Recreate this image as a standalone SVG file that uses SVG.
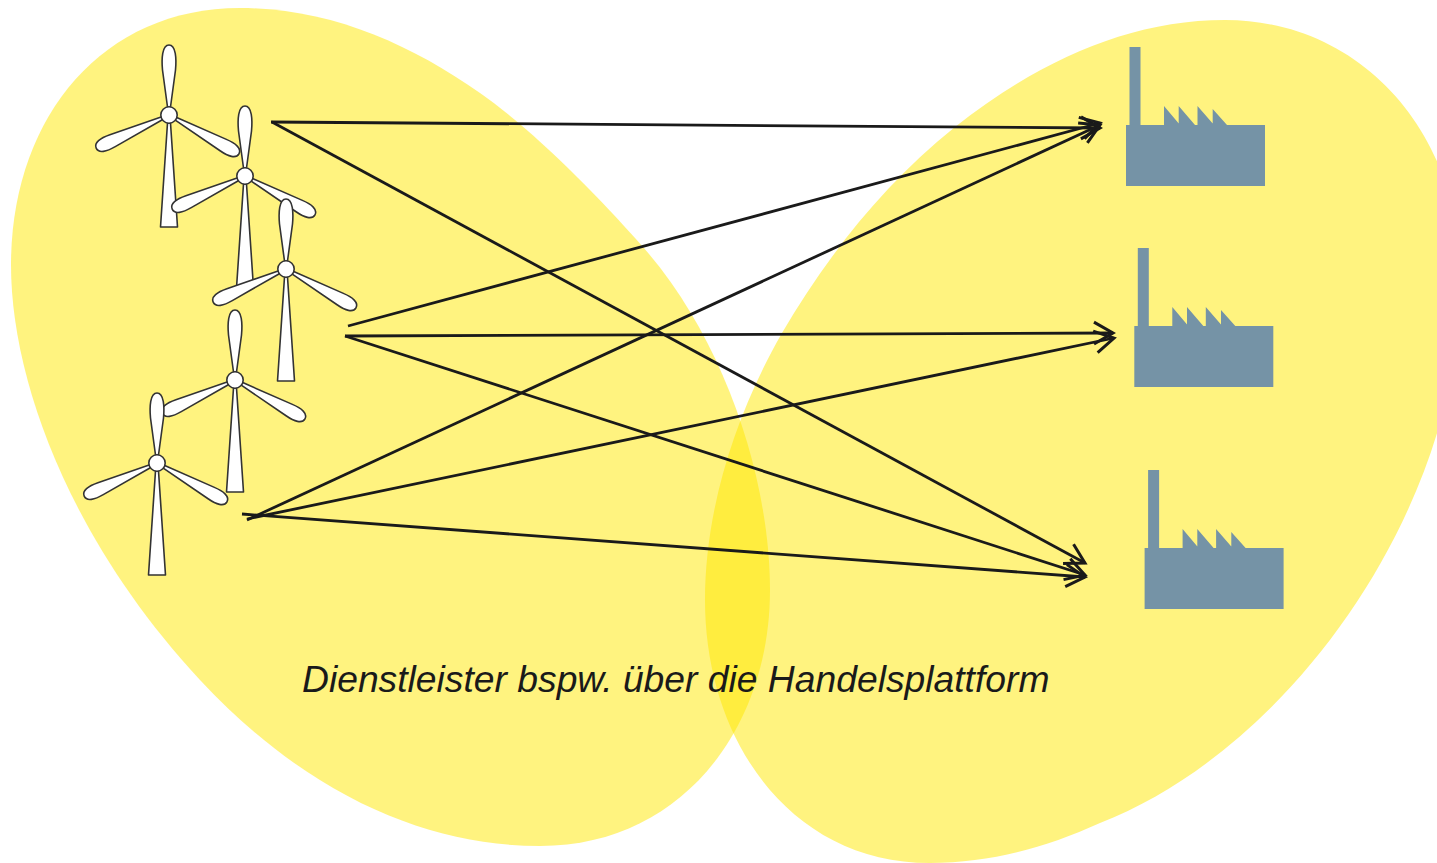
<svg xmlns="http://www.w3.org/2000/svg" width="1437" height="863" viewBox="0 0 1437 863">
<style>
.blob{fill:#ffe800;fill-opacity:.5}
.part{fill:#fff;stroke:#333;stroke-width:1.6;stroke-linejoin:round}
.conn{fill:none;stroke:#1a1a1a;stroke-width:2.800;marker-end:url(#open)}
.fac{fill:#7593a6}
.lbl{font-family:"Liberation Sans",Arial,sans-serif;font-style:italic;font-size:37.250px;fill:#1a1a1a}
</style>
<defs>
<marker id="open" markerUnits="userSpaceOnUse" markerWidth="40" markerHeight="40" refX="30" refY="20" orient="auto">
<path d="M11,9 L30,20 L11,31" fill="none" stroke="#1a1a1a" stroke-width="3"/>
</marker>
<path id="blade" class="part" d="M-1.500,-8 L-6.500,-45 C-7.500,-56 -7,-70 0,-70 C7,-70 7.500,-56 6.500,-45 L1.500,-8 Z"/>
<path id="side" class="part" d="M-1.500,-8 L-6.500,-62 C-7.500,-72 -6,-80 0,-80 C6,-80 7.500,-72 6.500,-62 L1.500,-8 Z"/>
<g id="turbine">
<path class="part" d="M-8.500,112 L-1.500,8 L1.500,8 L8.500,112 Z"/>
<use href="#blade"/>
<use href="#side" transform="rotate(-114.500)"/>
<use href="#side" transform="rotate(119)"/>
<circle class="part" r="8.200"/>
</g>
<g id="factory">
<rect class="fac" x="1126" y="125" width="139" height="61"/>
<rect class="fac" x="1129.500" y="47" width="11" height="78"/>
<path class="fac" d="M1164,106 L1180,125 L1164,125 Z M1178.700,106 L1195,125 L1178.700,125 Z M1197.500,106 L1214,125 L1197.500,125 Z M1212.700,109 L1227,125 L1212.700,125 Z"/>
</g>
</defs>
<path class="blob" d="M240,8 C100,8 11,120 11,265 C11,380 70,540 200,680 C310,798 430,846 540,846 C680,846 770,730 770,590 C770,480 725,340 643,247 C590,187 530,128 480,93 C410,44 330,8 240,8 Z"/>
<path class="blob" d="M1225,20 C1130,20 1040,60 955,127 C880,187 825,260 782,333 C735,415 705,510 705,600 C705,740 790,863 930,863 C990,863 1045,848 1100,823 C1300,745 1470,490 1460,265 C1456,130 1360,20 1225,20 Z"/>
<g id="turbine-1"><use href="#turbine" x="169" y="115"/></g>
<g id="turbine-2"><use href="#turbine" x="245" y="176"/></g>
<g id="turbine-3"><use href="#turbine" x="286" y="269"/></g>
<g id="turbine-4"><use href="#turbine" x="235" y="380"/></g>
<g id="turbine-5"><use href="#turbine" x="157" y="463"/></g>
<g id="factory-1"><use href="#factory"/></g>
<g id="factory-2"><use href="#factory" x="8.300" y="201"/></g>
<g id="factory-3"><use href="#factory" x="18.600" y="423"/></g>
<g id="connectors">
<line class="conn" x1="271" y1="122" x2="1100" y2="128"/>
<line class="conn" x1="272" y1="122" x2="1085" y2="563"/>
<line class="conn" x1="348" y1="326" x2="1100" y2="123"/>
<line class="conn" x1="345" y1="336" x2="1113" y2="333"/>
<line class="conn" x1="345" y1="336" x2="1085" y2="575"/>
<line class="conn" x1="247" y1="520" x2="1100" y2="125"/>
<line class="conn" x1="247" y1="519" x2="1114" y2="338"/>
<line class="conn" x1="242" y1="514" x2="1085" y2="577"/>
</g>
<text class="lbl" x="302" y="692">Dienstleister bspw. über die Handelsplattform</text>
</svg>
